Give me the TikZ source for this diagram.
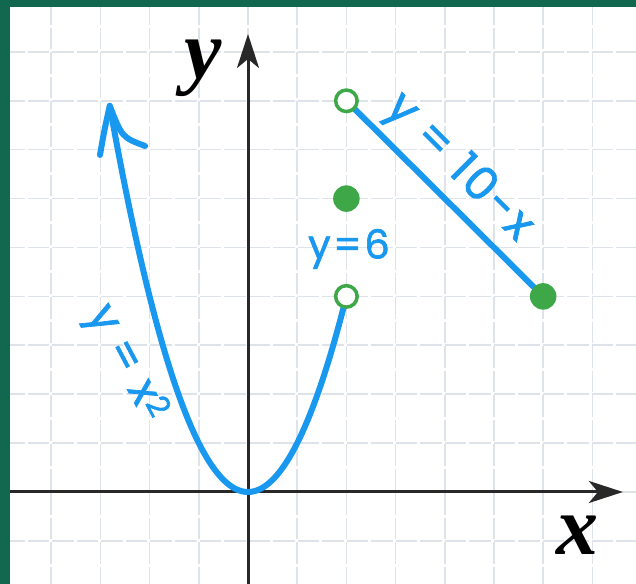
\documentclass[tikz,border=0pt]{standalone}
\usepackage{fontspec}
\newfontfamily\labfont[LetterSpace=6,FakeBold=1.6]{Poppins}
\newfontfamily\axfont{Liberation Serif}
\usetikzlibrary{arrows.meta}
\definecolor{bord}{RGB}{18,104,78}
\definecolor{gridc}{RGB}{222,227,234}
\definecolor{curvec}{RGB}{25,152,240}
\definecolor{ptgreen}{RGB}{62,168,72}
\definecolor{axisc}{RGB}{40,40,40}
\begin{document}
\begin{tikzpicture}[x=49.2pt,y=48.9pt,
  gridline/.style={draw=gridc, line width=1.6pt, dash pattern=on 0pt off 1.5pt on 21.5pt off 1.5pt},
  axisline/.style={draw=axisc, line width=3pt, -{Stealth[length=34pt,width=22pt,inset=9pt]}},
  curveline/.style={draw=curvec, line width=6pt, line cap=round, line join=round},
  opendot/.style={circle, draw=ptgreen, fill=white, line width=3.5pt, minimum size=21.5pt, inner sep=0pt},
  filldot/.style={circle, fill=ptgreen, minimum size=26.5pt, inner sep=0pt},
  lab/.style={text=curvec, font=\labfont\fontsize{40}{40}\selectfont, inner sep=0pt},
  biglab/.style={lab, font=\labfont\fontsize{46}{46}\selectfont},
  axlab/.style={font=\axfont\bfseries\itshape\fontsize{84}{84}\selectfont, inner sep=0pt}]
\useasboundingbox (-5.0407,-1.8814) rectangle (7.8862,10.0613);
\clip (-5.0407,-1.8814) rectangle (7.8862,10.0613);
\fill[white] (-5.0407,-1.8814) rectangle (7.8862,10.0613);
% grid
\foreach \k in {-4,...,7} \draw[gridline] (\k,-2) -- (\k,10.5);
\foreach \k in {-1,...,9} \draw[gridline] (-5,\k) -- (8,\k);
% border
\fill[bord] (-5.0407,-1.8814) rectangle (-4.8374,10.0613);
\fill[bord] (-5.0407,9.918) rectangle (7.8862,10.0613);
% axes
\coordinate (xstart) at (-4.8374,0);
\coordinate (xend) at (7.62,0);
\coordinate (ystart) at (0,-1.8814);
\coordinate (yend) at (0,9.366);
\draw[axisline] (xstart) -- (xend);
\draw[axisline] (ystart) -- (yend);
\node[axlab] (ylab) at (-0.915,8.67) {y};
\node[axlab] (xlab) at (6.687,-0.879) {x};
% points
\coordinate (p8) at (2,8);
\coordinate (p6) at (2,6);
\coordinate (p4) at (2,4);
\coordinate (q4) at (6,4);
\coordinate (tip) at (-2.81,7.896);
% curves
\draw[curveline] plot[domain=-2.81:2, samples=90, smooth] (\x,{\x*\x});
\draw[curveline] (-3.008,6.892) .. controls (-2.93,7.35) .. (tip) .. controls (-2.561,7.254) .. (-2.093,7.076);
\draw[curveline] (p8) -- (q4);
\node[opendot] (o8) at (p8) {};
\node[filldot] (f6) at (p6) {};
\node[opendot] (o4) at (p4) {};
\node[filldot] (f4) at (q4) {};
% labels
\node[biglab, rotate=-45] (l1) at (4.27,6.62) {y = 10-x};
\node[lab] (l2) at (2.053,4.97) {y=6};
\node[lab, font=\labfont\fontsize{44}{44}\selectfont, rotate=-62] (l3) at (-2.5,2.62) {y = x\textsuperscript{2}};
\end{tikzpicture}
\end{document}
